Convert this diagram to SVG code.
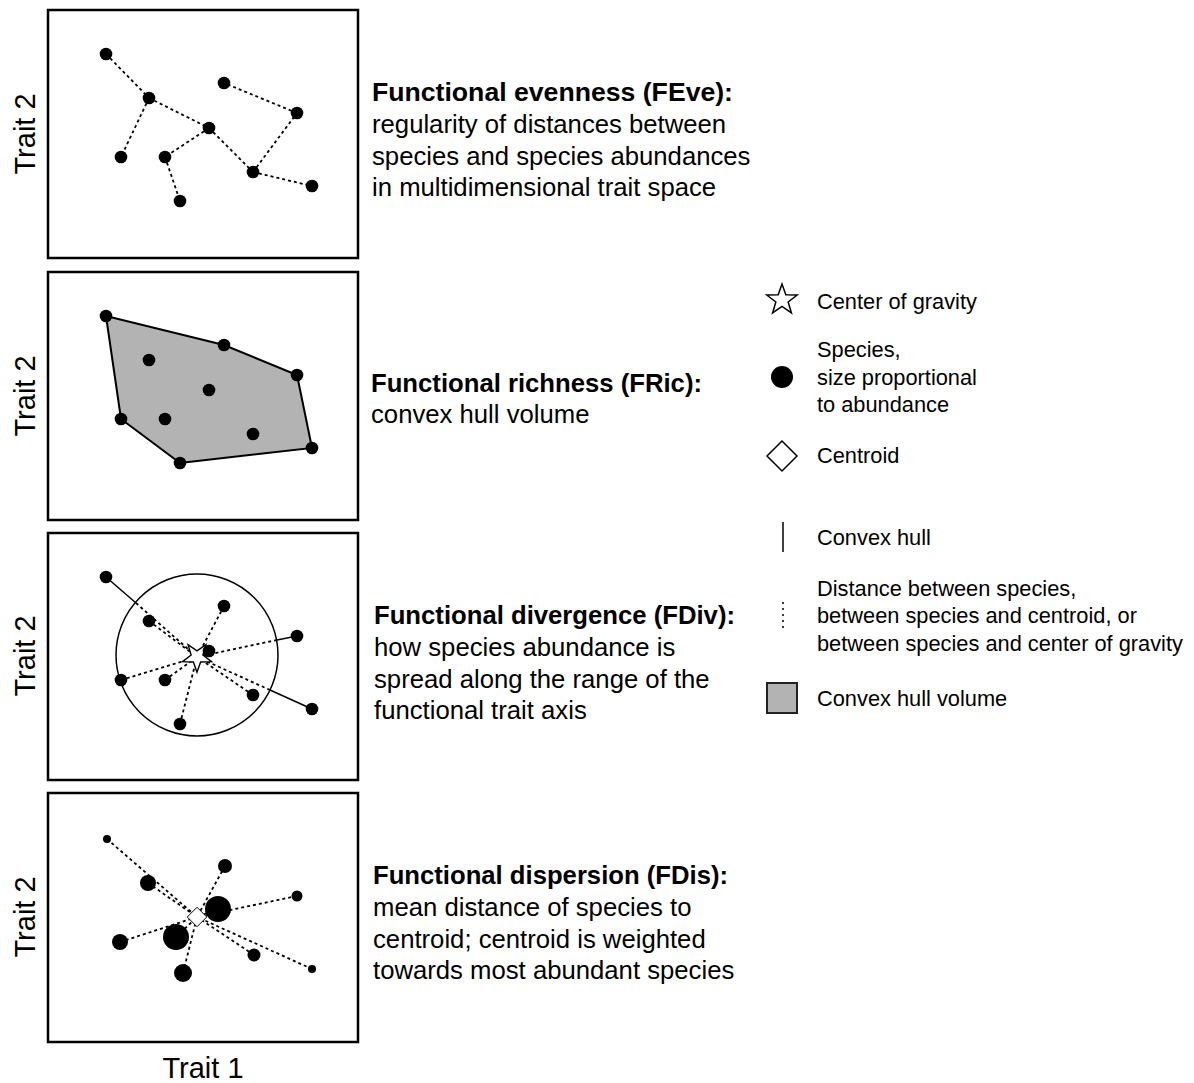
<svg xmlns="http://www.w3.org/2000/svg" xmlns:xlink="http://www.w3.org/1999/xlink" width="1194" height="1083" viewBox="0 0 1194 1083">
<style>
text{font-family:"Liberation Sans",Arial,sans-serif;fill:#000}
.box{fill:none;stroke:#000;stroke-width:2.5}
.dash{stroke:#000;stroke-width:1.8;stroke-dasharray:3 3;fill:none}
.solid{stroke:#000;stroke-width:1.5;fill:none}
.dot{fill:#000}
.t{font-size:25.7px}
.b{font-size:26.2px;font-weight:bold}
.ax{font-size:29px}
.lg{font-size:21.8px}
.open{fill:#fff;stroke:#000;stroke-width:1.5}
</style>
<defs>
<path id="star" d="M0,-16 L3.82,-5.26 L15.22,-4.94 L6.18,2.01 L9.41,12.94 L0,6.5 L-9.41,12.94 L-6.18,2.01 L-15.22,-4.94 L-3.82,-5.26 Z"/>
<path id="diamond" d="M0,-15 L15,0 L0,15 L-15,0 Z"/>
</defs>
<rect width="1194" height="1083" fill="#fff"/>

<g id="frames">
<rect class="box" x="48" y="10" width="310" height="248"/>
<rect class="box" x="48" y="272" width="310" height="248"/>
<rect class="box" x="48" y="533" width="310" height="247"/>
<rect class="box" x="48" y="793" width="310" height="249"/>
</g>

<g id="axis-labels">
<text class="ax" text-anchor="middle" transform="translate(35,134) rotate(-90)">Trait 2</text>
<text class="ax" text-anchor="middle" transform="translate(35,396) rotate(-90)">Trait 2</text>
<text class="ax" text-anchor="middle" transform="translate(35,656) rotate(-90)">Trait 2</text>
<text class="ax" text-anchor="middle" transform="translate(35,917) rotate(-90)">Trait 2</text>
<text class="ax" x="203" y="1078" text-anchor="middle">Trait 1</text>
</g>

<g id="hull">
<polygon points="106,316 224,345 297,375 312,448 180,463 121,419" fill="#b3b3b3" stroke="#000" stroke-width="2"/>
</g>

<g id="fdiv-circle">
<circle cx="197" cy="655" r="81" class="solid"/>
</g>

<g id="connectors">
<line class="dash" x1="106" y1="54" x2="149" y2="98"/>
<line class="dash" x1="149" y1="98" x2="209" y2="128"/>
<line class="dash" x1="149" y1="98" x2="121" y2="157"/>
<line class="dash" x1="209" y1="128" x2="165" y2="157"/>
<line class="dash" x1="165" y1="157" x2="180" y2="201"/>
<line class="dash" x1="209" y1="128" x2="253" y2="172"/>
<line class="dash" x1="253" y1="172" x2="297" y2="113"/>
<line class="dash" x1="297" y1="113" x2="224" y2="83"/>
<line class="dash" x1="253" y1="172" x2="312" y2="186"/>
<line class="dash" x1="136" y1="603" x2="197" y2="657"/>
<line class="dash" x1="149" y1="621" x2="197" y2="657"/>
<line class="dash" x1="224" y1="606" x2="197" y2="657"/>
<line class="dash" x1="277" y1="640" x2="197" y2="657"/>
<line class="dash" x1="209" y1="651" x2="197" y2="657"/>
<line class="dash" x1="121" y1="680" x2="197" y2="657"/>
<line class="dash" x1="165" y1="680" x2="197" y2="657"/>
<line class="dash" x1="253" y1="695" x2="197" y2="657"/>
<line class="dash" x1="270" y1="690" x2="197" y2="657"/>
<line class="dash" x1="180" y1="724" x2="197" y2="657"/>
<line class="solid" x1="106" y1="577" x2="136" y2="603"/>
<line class="solid" x1="297" y1="636" x2="277" y2="640"/>
<line class="solid" x1="312" y1="709" x2="270" y2="690"/>
<line class="dash" x1="107" y1="839" x2="197" y2="917"/>
<line class="dash" x1="148" y1="883" x2="197" y2="917"/>
<line class="dash" x1="225" y1="866" x2="197" y2="917"/>
<line class="dash" x1="297" y1="896" x2="197" y2="917"/>
<line class="dash" x1="218" y1="909" x2="197" y2="917"/>
<line class="dash" x1="176" y1="937" x2="197" y2="917"/>
<line class="dash" x1="120" y1="942" x2="197" y2="917"/>
<line class="dash" x1="183" y1="973" x2="197" y2="917"/>
<line class="dash" x1="254" y1="955" x2="197" y2="917"/>
<line class="dash" x1="312" y1="969" x2="197" y2="917"/>
</g>

<g id="panel-feve">
<circle class="dot" cx="106" cy="54" r="6.3"/>
<circle class="dot" cx="149" cy="98" r="6.3"/>
<circle class="dot" cx="224" cy="83" r="6.3"/>
<circle class="dot" cx="297" cy="113" r="6.3"/>
<circle class="dot" cx="209" cy="128" r="6.3"/>
<circle class="dot" cx="121" cy="157" r="6.3"/>
<circle class="dot" cx="165" cy="157" r="6.3"/>
<circle class="dot" cx="253" cy="172" r="6.3"/>
<circle class="dot" cx="312" cy="186" r="6.3"/>
<circle class="dot" cx="180" cy="201" r="6.3"/>
<text class="b" x="372" y="101" textLength="361" lengthAdjust="spacingAndGlyphs">Functional evenness (FEve):</text>
<text class="t" x="372" y="133">regularity of distances between</text>
<text class="t" x="372" y="165">species and species abundances</text>
<text class="t" x="372" y="196">in multidimensional trait space</text>
</g>

<g id="panel-fric">
<circle class="dot" cx="106" cy="316" r="6.3"/>
<circle class="dot" cx="149" cy="360" r="6.3"/>
<circle class="dot" cx="224" cy="345" r="6.3"/>
<circle class="dot" cx="297" cy="375" r="6.3"/>
<circle class="dot" cx="209" cy="390" r="6.3"/>
<circle class="dot" cx="121" cy="419" r="6.3"/>
<circle class="dot" cx="165" cy="419" r="6.3"/>
<circle class="dot" cx="253" cy="434" r="6.3"/>
<circle class="dot" cx="312" cy="448" r="6.3"/>
<circle class="dot" cx="180" cy="463" r="6.3"/>
<text class="b" x="371" y="392" textLength="331" lengthAdjust="spacingAndGlyphs">Functional richness (FRic):</text>
<text class="t" x="371" y="423">convex hull volume</text>
</g>

<g id="panel-fdiv">
<use href="#star" class="open" transform="translate(197,657) rotate(180) scale(0.95)"/>
<circle class="dot" cx="106" cy="577" r="6.3"/>
<circle class="dot" cx="149" cy="621" r="6.3"/>
<circle class="dot" cx="224" cy="606" r="6.3"/>
<circle class="dot" cx="297" cy="636" r="6.3"/>
<circle class="dot" cx="209" cy="651" r="6.3"/>
<circle class="dot" cx="121" cy="680" r="6.3"/>
<circle class="dot" cx="165" cy="680" r="6.3"/>
<circle class="dot" cx="253" cy="695" r="6.3"/>
<circle class="dot" cx="312" cy="709" r="6.3"/>
<circle class="dot" cx="180" cy="724" r="6.3"/>
<text class="b" x="374" y="624" textLength="361" lengthAdjust="spacingAndGlyphs">Functional divergence (FDiv):</text>
<text class="t" x="374" y="656">how species abundance is</text>
<text class="t" x="374" y="688">spread along the range of the</text>
<text class="t" x="374" y="719">functional trait axis</text>
</g>

<g id="panel-fdis">
<use href="#diamond" class="open" transform="translate(197,917) scale(0.65)"/>
<circle class="dot" cx="107" cy="839" r="4"/>
<circle class="dot" cx="148" cy="883" r="8"/>
<circle class="dot" cx="225" cy="866" r="7"/>
<circle class="dot" cx="297" cy="896" r="5.5"/>
<circle class="dot" cx="218" cy="909" r="13"/>
<circle class="dot" cx="176" cy="937" r="13"/>
<circle class="dot" cx="120" cy="942" r="8"/>
<circle class="dot" cx="183" cy="973" r="9"/>
<circle class="dot" cx="254" cy="955" r="6.5"/>
<circle class="dot" cx="312" cy="969" r="4"/>
<text class="b" x="373" y="884" textLength="355" lengthAdjust="spacingAndGlyphs">Functional dispersion (FDis):</text>
<text class="t" x="373" y="916">mean distance of species to</text>
<text class="t" x="373" y="948">centroid; centroid is weighted</text>
<text class="t" x="373" y="979">towards most abundant species</text>
</g>

<g id="legend-star">
<use href="#star" class="open" transform="translate(782,300)"/>
<text class="lg" x="817" y="309">Center of gravity</text>
</g>
<g id="legend-species">
<circle class="dot" cx="782" cy="377" r="11"/>
<text class="lg" x="817" y="357">Species,</text>
<text class="lg" x="817" y="385">size proportional</text>
<text class="lg" x="817" y="412">to abundance</text>
</g>
<g id="legend-centroid">
<use href="#diamond" class="open" transform="translate(782,456)"/>
<text class="lg" x="817" y="463">Centroid</text>
</g>
<g id="legend-hull">
<line class="solid" x1="783" y1="522" x2="783" y2="552"/>
<text class="lg" x="817" y="545">Convex hull</text>
</g>
<g id="legend-distance">
<line x1="783" y1="602" x2="783" y2="632" stroke="#000" stroke-width="1.5" stroke-dasharray="2 4"/>
<text class="lg" x="817" y="596">Distance between species,</text>
<text class="lg" x="817" y="623">between species and centroid, or</text>
<text class="lg" x="817" y="651">between species and center of gravity</text>
</g>
<g id="legend-volume">
<rect x="767" y="683" width="30" height="30" fill="#b3b3b3" stroke="#222" stroke-width="2"/>
<text class="lg" x="817" y="706">Convex hull volume</text>
</g>
</svg>
